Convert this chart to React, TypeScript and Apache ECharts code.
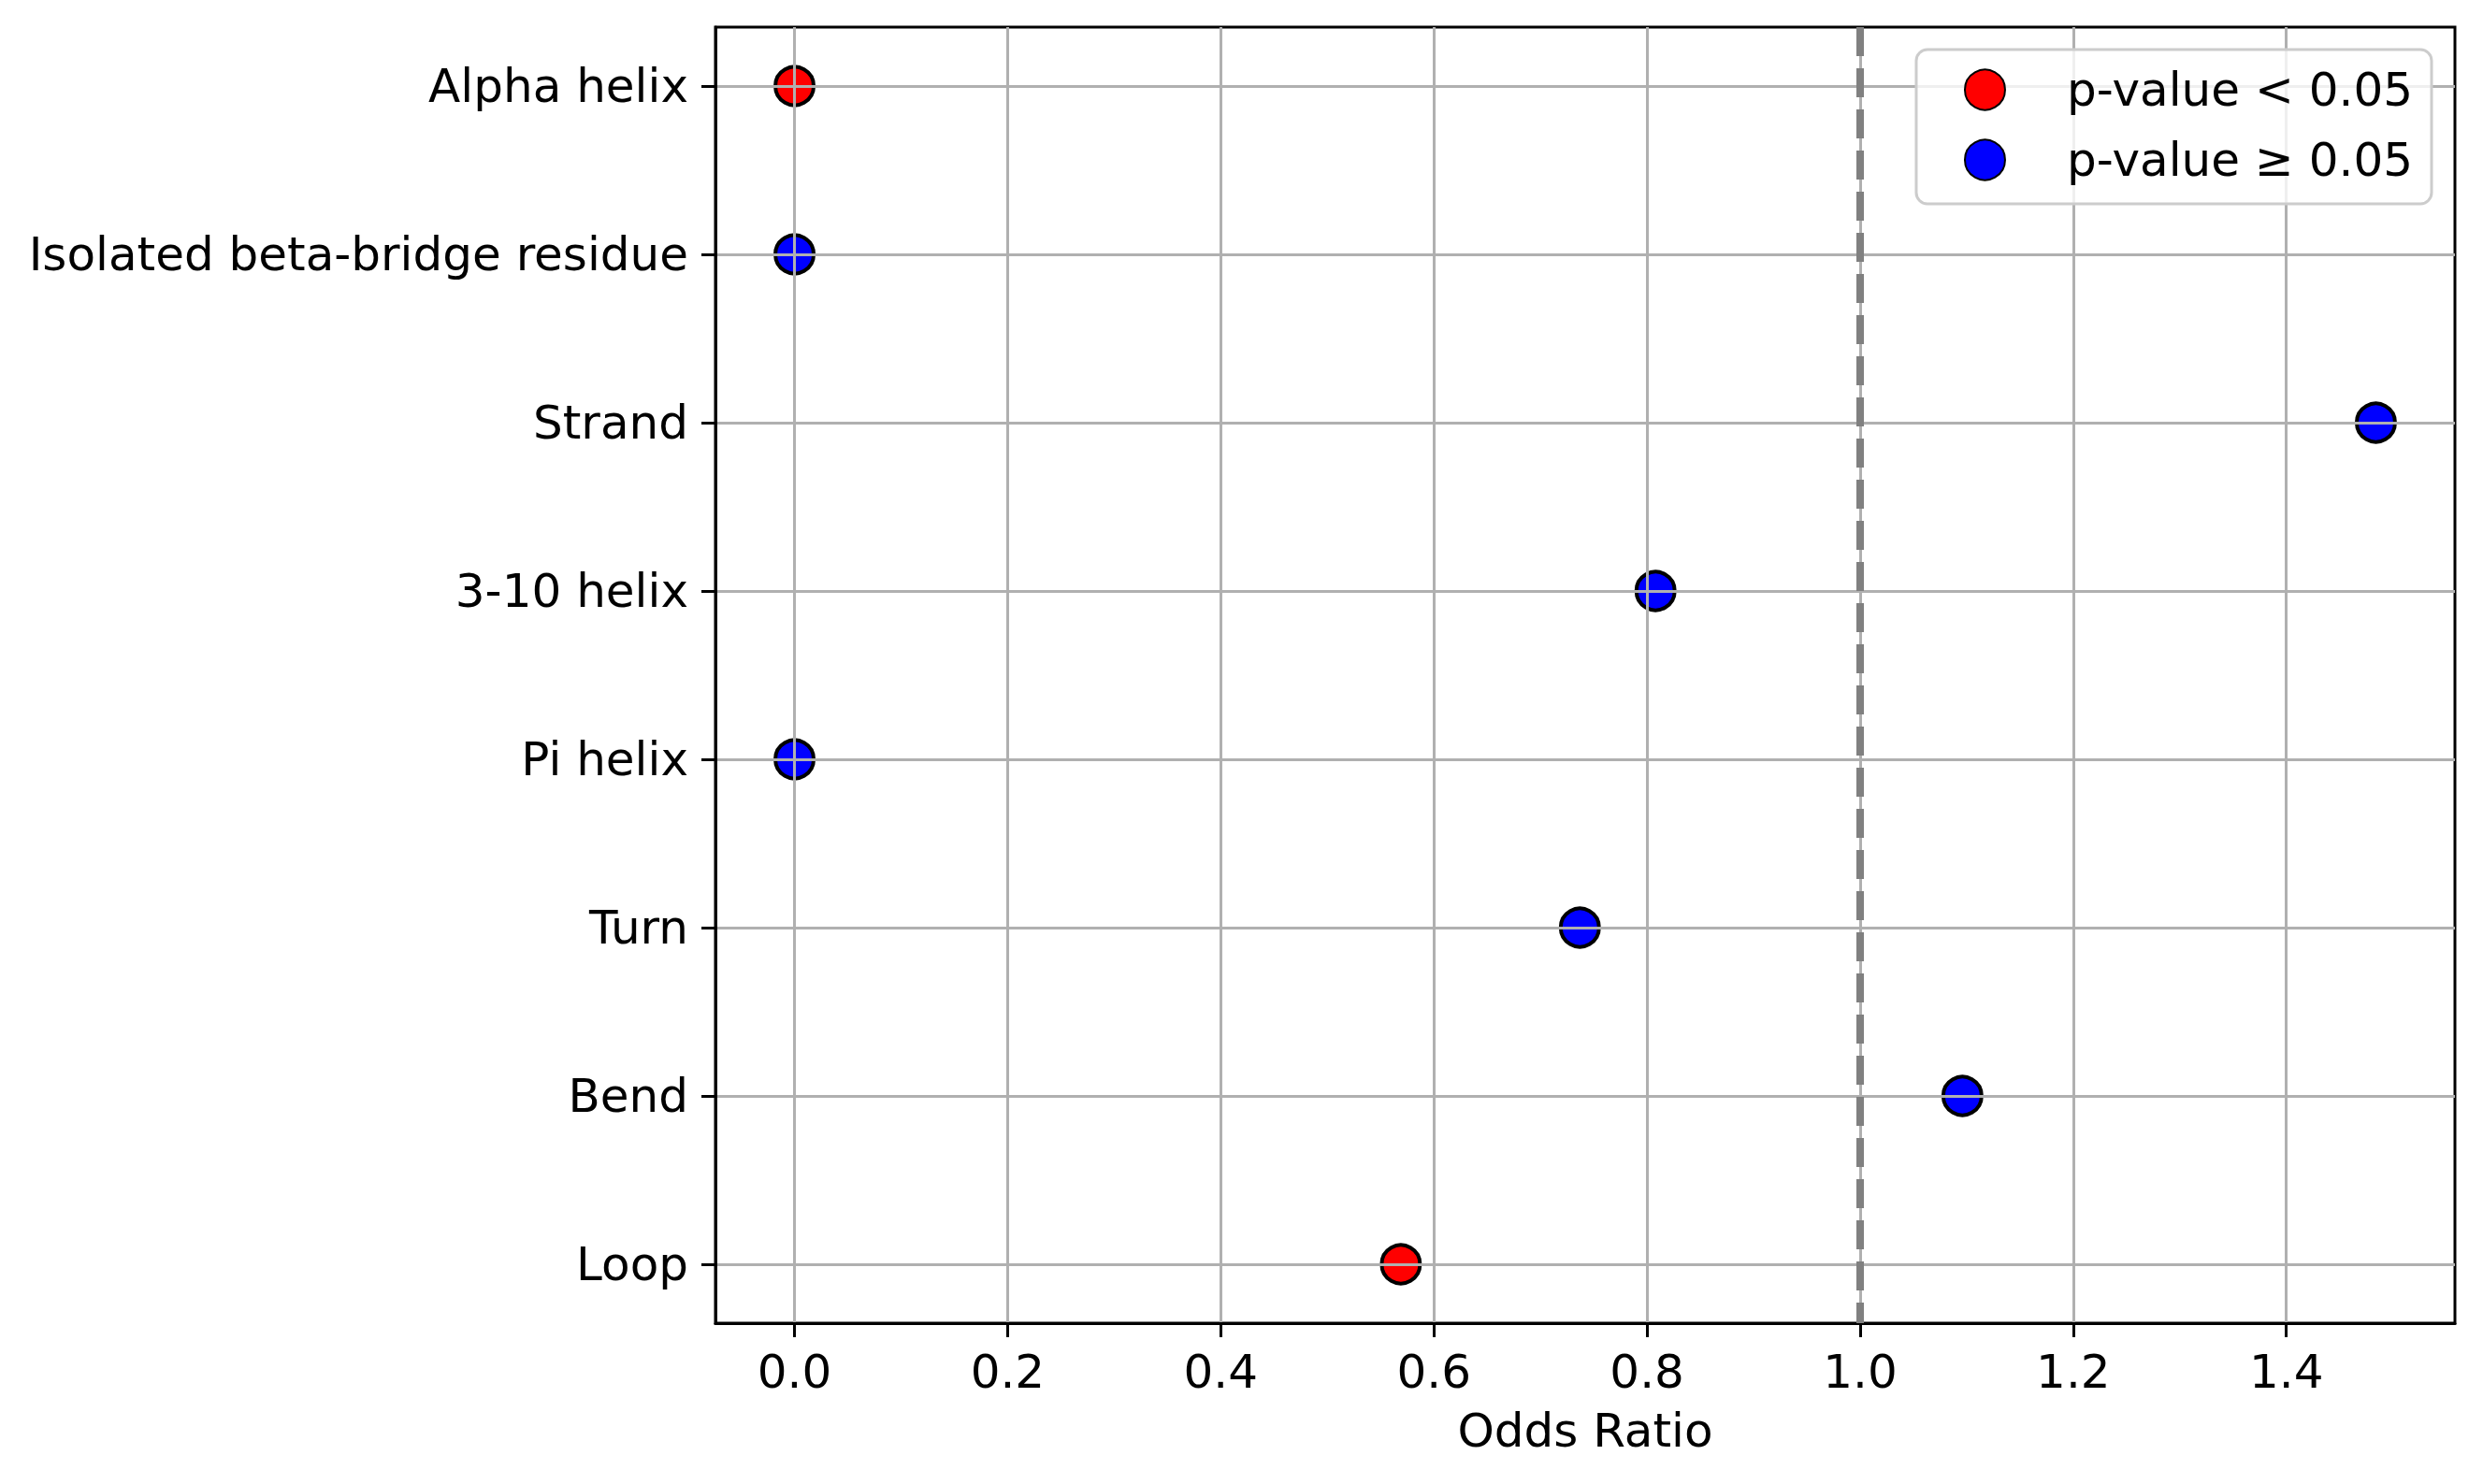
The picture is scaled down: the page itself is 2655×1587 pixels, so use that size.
import React, { useEffect, useRef } from "react";
import * as echarts from "echarts";

const categories = [
  "Alpha helix",
  "Isolated beta-bridge residue",
  "Strand",
  "3-10 helix",
  "Pi helix",
  "Turn",
  "Bend",
  "Loop",
];
const oddsRatios = [0, 0, 1.484, 0.808, 0, 0.737, 1.096, 0.569];
const significant = [true, false, false, false, false, false, false, true];
const xTicks = [0, 0.2, 0.4, 0.6, 0.8, 1.0, 1.2, 1.4];
const referenceLine = 1.0;
const sigName = "p-value < 0.05";
const nonSigName = "p-value \u2265 0.05";

const FONT = "DejaVu Sans";

export default function App() {
  const ref = useRef<HTMLDivElement>(null);
  useEffect(() => {
    document.body.style.margin = "0";
    const chart = echarts.init(ref.current!, null, { renderer: "svg" });
    const sigData: number[][] = [];
    const nonData: number[][] = [];
    oddsRatios.forEach((v, i) => {
      (significant[i] ? sigData : nonData).push([v, i]);
    });
    const xMin = -0.0742;
    const xMax = 1.5582;
    const marker = {
      type: "scatter",
      symbol: "circle",
      symbolSize: 41,
      z: 2,
    };
    chart.setOption({
      animation: false,
      backgroundColor: "#ffffff",
      textStyle: { fontFamily: FONT },
      grid: {
        left: 765,
        top: 29,
        right: 30,
        bottom: 172,
        show: true,
        borderColor: "#000000",
        borderWidth: 3,
        backgroundColor: "transparent",
        containLabel: false,
      },
      legend: {
        orient: "vertical",
        right: 55,
        top: 53,
        icon: "circle",
        itemWidth: 43,
        itemHeight: 43,
        itemGap: 25,
        padding: [18, 20, 22, 51],
        backgroundColor: "rgba(255,255,255,0.8)",
        borderColor: "#cccccc",
        borderWidth: 3,
        borderRadius: 12,
        selectedMode: false,
        textStyle: {
          fontFamily: FONT,
          fontSize: 50,
          color: "#000000",
          lineHeight: 43,
          padding: [0, 0, 0, 61],
        },
        data: [sigName, nonSigName],
      },
      xAxis: {
        type: "value",
        min: xMin,
        max: xMax,
        z: 3,
        name: "Odds Ratio",
        nameLocation: "middle",
        nameGap: 90,
        nameTextStyle: { fontFamily: FONT, fontSize: 50, color: "#000000" },
        axisLine: { show: true, onZero: false, lineStyle: { color: "#000000", width: 3 } },
        axisTick: {
          show: true,
          length: 15,
          inside: false,
          customValues: xTicks,
          lineStyle: { color: "#000000", width: 3 },
        },
        axisLabel: {
          customValues: xTicks,
          margin: 27,
          fontFamily: FONT,
          fontSize: 50,
          color: "#000000",
          formatter: (v: number) => v.toFixed(1),
        },
        splitLine: { show: true, lineStyle: { color: "#b0b0b0", width: 3 } },
      },
      yAxis: {
        type: "value",
        min: -0.35,
        max: 7.35,
        inverse: true,
        z: 3,
        axisLine: { show: true, onZero: false, lineStyle: { color: "#000000", width: 3 } },
        axisTick: {
          show: true,
          length: 15,
          inside: false,
          customValues: categories.map((_, i) => i),
          lineStyle: { color: "#000000", width: 3 },
        },
        axisLabel: {
          customValues: categories.map((_, i) => i),
          margin: 29,
          fontFamily: FONT,
          fontSize: 50,
          color: "#000000",
          formatter: (v: number) => categories[Math.round(v)] ?? "",
        },
        splitLine: { show: true, lineStyle: { color: "#b0b0b0", width: 3 } },
      },
      series: [
        {
          ...marker,
          name: sigName,
          data: sigData,
          itemStyle: { color: "#ff0000", borderColor: "#000000", borderWidth: 4, opacity: 1 },
          markLine: {
            silent: true,
            symbol: "none",
            z: 5,
            label: { show: false },
            lineStyle: { color: "#808080", width: 8, type: [31, 13], opacity: 1 },
            emphasis: { disabled: true },
            data: [{ xAxis: referenceLine }],
          },
        },
        {
          ...marker,
          name: nonSigName,
          data: nonData,
          itemStyle: { color: "#0000ff", borderColor: "#000000", borderWidth: 4, opacity: 1 },
        },
      ],
    });
    return () => chart.dispose();
  }, []);
  return <div ref={ref} style={{ width: 2655, height: 1587 }} />;
}
